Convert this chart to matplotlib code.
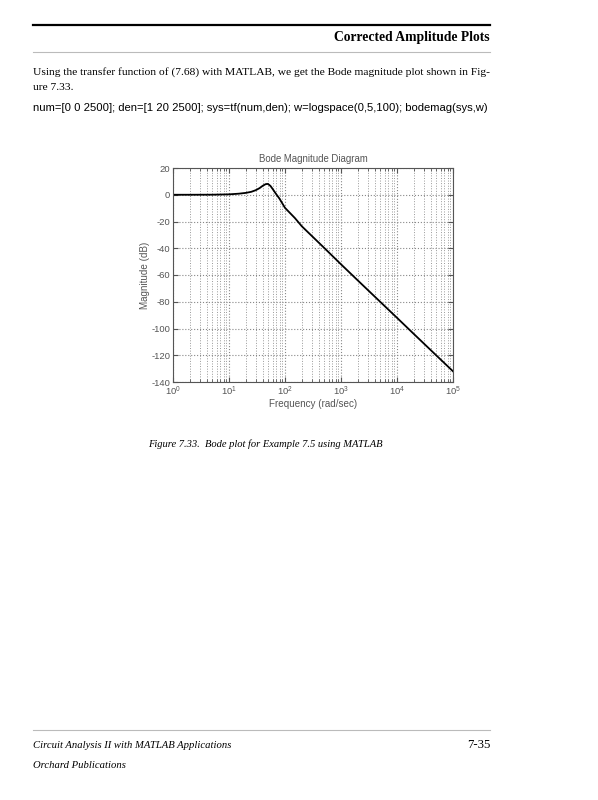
import matplotlib
matplotlib.use('Agg')
import matplotlib.pyplot as plt
from matplotlib.ticker import LogLocator, NullFormatter

plt.rcParams['axes.unicode_minus'] = False
plt.rcParams['mathtext.default'] = 'regular'

# magnitude
freq = [1, 2, 5, 10, 15, 20, 25, 30, 35, 40, 45, 48, 50, 55, 60, 70, 80,
        100, 150, 200, 500, 1e3, 2e3, 5e3, 1e4, 2e4, 5e4, 1e5]
mag_db = [0, 0, 0.05, 0.3, 0.8, 1.4, 2.2, 3.4, 4.9, 6.7, 7.9, 8.1, 8.0, 6.6,
          4.4, 0.3, -3.0, -9.8, -17.4, -23.6, -39.7, -52.0, -64.1, -80.0,
          -92.0, -104.1, -120.0, -132.0]
yticks = [-140, -120, -100, -80, -60, -40, -20, 0, 20]

W, H = 598, 800
fig = plt.figure(figsize=(W / 100, H / 100), dpi=100)

def px(x, y):
    return x / W, 1 - y / H

serif = 'Liberation Serif'
sans = 'Liberation Sans'
gray = '#555555'

# page header
fig.add_artist(plt.Line2D([33 / W, 490 / W], [1 - 25 / H] * 2, color='black', lw=1.6))
fig.text(*px(490, 38), 'Corrected Amplitude Plots', family=serif, weight='bold',
         size=9.8, ha='right', va='center')
fig.add_artist(plt.Line2D([33 / W, 490 / W], [1 - 52 / H] * 2, color='#bbbbbb', lw=0.8))
fig.text(*px(33, 72), 'Using the transfer function of (7.68) with MATLAB, we get the Bode magnitude plot shown in Fig-',
         family=serif, size=8.25, ha='left', va='center')
fig.text(*px(33, 88), 'ure 7.33.', family=serif, size=8.25, ha='left', va='center')
fig.text(*px(33, 108), 'num=[0 0 2500]; den=[1 20 2500]; sys=tf(num,den); w=logspace(0,5,100); bodemag(sys,w)',
         family=sans, size=8.1, ha='left', va='center')

# chart
ax = fig.add_axes([173 / W, 1 - 382 / H, (453 - 173) / W, (382 - 168) / H])
ax.semilogx(freq, mag_db, color='black', lw=1.3)
ax.set_xlim(1, 1e5)
ax.set_ylim(-140, 20)
ax.set_yticks(yticks)
ax.xaxis.set_major_locator(LogLocator(base=10, numticks=10))
ax.xaxis.set_minor_locator(LogLocator(base=10, subs=range(2, 10), numticks=20))
ax.xaxis.set_minor_formatter(NullFormatter())
ax.grid(True, which='major', ls=':', color='#888888', lw=0.8)
ax.grid(True, which='minor', axis='x', ls=':', color='#999999', lw=0.7)
ax.tick_params(which='both', direction='in', top=True, right=True, pad=2,
               labelsize=6.8, labelcolor=gray, color=gray)
for lab in ax.get_xticklabels() + ax.get_yticklabels():
    lab.set_family(sans)
for s in ax.spines.values():
    s.set_color(gray)
    s.set_linewidth(0.8)
ax.set_title('Bode Magnitude Diagram', family=sans, size=6.9, color=gray, pad=4)
ax.set_xlabel('Frequency (rad/sec)', family=sans, size=7.1, color=gray, labelpad=1)
ax.set_ylabel('Magnitude (dB)', family=sans, size=7.1, color=gray, labelpad=1)

# caption and footer
fig.text(*px(265, 444), 'Figure 7.33.  Bode plot for Example 7.5 using MATLAB',
         family=serif, style='italic', size=7.6, ha='center', va='center')
fig.add_artist(plt.Line2D([33 / W, 490 / W], [1 - 730 / H] * 2, color='#bbbbbb', lw=0.8))
fig.text(*px(33, 746), 'Circuit Analysis II with MATLAB Applications',
         family=serif, style='italic', size=7.7, ha='left', va='center')
fig.text(*px(490, 745), '7-35', family=serif, size=9.2, ha='right', va='center')
fig.text(*px(33, 766), 'Orchard Publications',
         family=serif, style='italic', size=7.7, ha='left', va='center')

fig.savefig('out.png', dpi=100)
